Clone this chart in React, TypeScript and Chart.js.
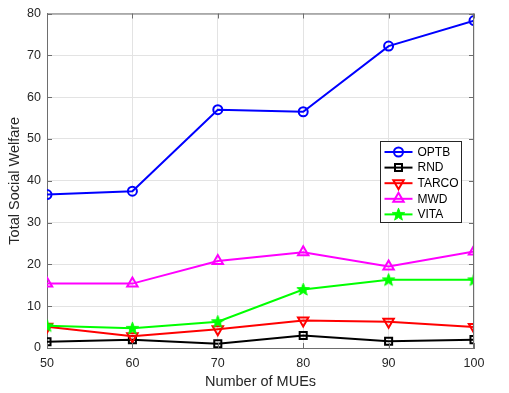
import React, { useEffect, useRef } from 'react';
import { Chart, registerables } from 'chart.js';

Chart.register(...registerables);

const xValues = [50, 60, 70, 80, 90, 100];
const optb = [36.7, 37.5, 57.0, 56.5, 72.2, 78.3];
const rnd = [1.5, 2.0, 1.0, 3.0, 1.6, 2.0];
const tarco = [5.1, 2.8, 4.5, 6.6, 6.3, 5.0];
const mwd = [15.4, 15.4, 20.8, 22.9, 19.5, 23.1];
const vita = [5.3, 4.7, 6.3, 14.0, 16.3, 16.3];
const seriesNames = ['OPTB', 'RND', 'TARCO', 'MWD', 'VITA'];
const seriesColors = ['#0000ff', '#000000', '#ff0000', '#ff00ff', '#00ff00'];
const xTicks = [50, 60, 70, 80, 90, 100];
const yTicks = [0, 10, 20, 30, 40, 50, 60, 70, 80];
const xTitle = 'Number of MUEs';
const yTitle = 'Total Social Welfare';

const FONT = "'Liberation Sans', Arial, Helvetica, sans-serif";
const AXIS_COLOR = '#6e6e6e';
const TEXT_COLOR = '#262626';
const GRID_COLOR = '#e3e3e3';

function makeStar(color: string): HTMLCanvasElement {
  const c = document.createElement('canvas');
  c.width = 15;
  c.height = 15;
  const g = c.getContext('2d')!;
  const cx = 7.5, cy = 7.8, R = 6.6, r = 2.7;
  g.beginPath();
  for (let i = 0; i < 10; i++) {
    const rad = i % 2 === 0 ? R : r;
    const a = -Math.PI / 2 + (i * Math.PI) / 5;
    const px = cx + rad * Math.cos(a);
    const py = cy + rad * Math.sin(a);
    if (i === 0) g.moveTo(px, py);
    else g.lineTo(px, py);
  }
  g.closePath();
  g.fillStyle = color;
  g.fill();
  g.strokeStyle = color;
  g.lineWidth = 1;
  g.stroke();
  return c;
}

type MarkerKind = 'circle' | 'rect' | 'tdown' | 'tup' | 'star';
const markerKinds: MarkerKind[] = ['circle', 'rect', 'tdown', 'tup', 'star'];

function drawMarker(ctx: CanvasRenderingContext2D, kind: MarkerKind, x: number, y: number, color: string, star: HTMLCanvasElement) {
  ctx.save();
  ctx.strokeStyle = color;
  ctx.lineWidth = 2;
  ctx.beginPath();
  if (kind === 'circle') {
    ctx.arc(x, y, 4.5, 0, Math.PI * 2);
    ctx.stroke();
  } else if (kind === 'rect') {
    ctx.rect(x - 3.5, y - 3.5, 7, 7);
    ctx.stroke();
  } else if (kind === 'tdown' || kind === 'tup') {
    const s = kind === 'tup' ? -1 : 1;
    const r = 6;
    ctx.moveTo(x, y + s * r);
    ctx.lineTo(x - r * 0.866, y - s * r * 0.5);
    ctx.lineTo(x + r * 0.866, y - s * r * 0.5);
    ctx.closePath();
    ctx.stroke();
  } else {
    ctx.drawImage(star, x - star.width / 2, y - star.height / 2);
  }
  ctx.restore();
}

export default function App() {
  const ref = useRef<HTMLCanvasElement | null>(null);

  useEffect(() => {
    if (!ref.current) return;
    const star = makeStar('#00ff00');
    const allSeries = [optb, rnd, tarco, mwd, vita];

    const framePlugin = {
      id: 'frameAndLegend',
      afterDraw(chart: any) {
        const ctx: CanvasRenderingContext2D = chart.ctx;
        const { left, top, right, bottom } = chart.chartArea;
        const xs = chart.scales.x;
        const ys = chart.scales.y;
        ctx.save();
        ctx.strokeStyle = AXIS_COLOR;
        ctx.lineWidth = 1;
        ctx.beginPath();
        ctx.moveTo(left, top + 0.5);
        ctx.lineTo(right, top + 0.5);
        ctx.moveTo(right - 0.5, top);
        ctx.lineTo(right - 0.5, bottom);
        ctx.stroke();
        ctx.beginPath();
        for (const t of xTicks) {
          const px = Math.round(xs.getPixelForValue(t)) + 0.5;
          ctx.moveTo(px, bottom);
          ctx.lineTo(px, bottom - 5);
          ctx.moveTo(px, top);
          ctx.lineTo(px, top + 5);
        }
        for (const t of yTicks) {
          const py = Math.round(ys.getPixelForValue(t)) + 0.5;
          ctx.moveTo(left, py);
          ctx.lineTo(left + 5, py);
          ctx.moveTo(right, py);
          ctx.lineTo(right - 5, py);
        }
        ctx.stroke();

        const boxW = 81, boxH = 81;
        const boxLeft = Math.round(right - 13 - boxW) + 0.5;
        const boxTop = Math.round(top + 127) + 0.5;
        ctx.fillStyle = '#ffffff';
        ctx.fillRect(boxLeft, boxTop, boxW, boxH);
        ctx.strokeStyle = '#262626';
        ctx.lineWidth = 1;
        ctx.strokeRect(boxLeft, boxTop, boxW, boxH);
        ctx.font = `12px ${FONT}`;
        ctx.textBaseline = 'middle';
        ctx.textAlign = 'left';
        seriesNames.forEach((name, i) => {
          const cy = boxTop + 10.5 + i * 15.6;
          const color = seriesColors[i];
          ctx.strokeStyle = color;
          ctx.lineWidth = 2;
          ctx.beginPath();
          ctx.moveTo(boxLeft + 4, cy);
          ctx.lineTo(boxLeft + 32, cy);
          ctx.stroke();
          drawMarker(ctx, markerKinds[i], boxLeft + 18, cy, color, star);
          ctx.fillStyle = '#000000';
          ctx.fillText(name, boxLeft + 37, cy + 0.5);
        });
        ctx.restore();
      },
    };

    const pointStyles: any[] = ['circle', 'rect', 'triangle', 'triangle', star];
    const rotations = [0, 0, 180, 0, 0];
    const radii = [4.5, 5, 6, 6, 7];

    const chart = new Chart(ref.current, {
      type: 'line',
      data: {
        datasets: allSeries.map((vals, i) => ({
          label: seriesNames[i],
          data: xValues.map((x, j) => ({ x, y: vals[j] })),
          borderColor: seriesColors[i],
          backgroundColor: 'rgba(0,0,0,0)',
          borderWidth: 2,
          pointStyle: pointStyles[i],
          pointRotation: rotations[i],
          pointRadius: radii[i],
          pointBorderWidth: 2,
          pointBorderColor: seriesColors[i],
          pointBackgroundColor: 'rgba(0,0,0,0)',
          tension: 0,
          fill: false,
          order: 5 - i,
        })),
      },
      options: {
        animation: false,
        responsive: false,
        maintainAspectRatio: false,
        layout: { padding: { left: 0, right: 35, top: 12, bottom: 0 } },
        plugins: {
          legend: { display: false },
          tooltip: { enabled: false },
        },
        scales: {
          x: {
            type: 'linear',
            min: 50,
            max: 100,
            afterBuildTicks: (s: any) => {
              s.ticks = xTicks.map((v) => ({ value: v }));
            },
            afterFit: (s: any) => {
              s.height = 45;
            },
            ticks: {
              color: TEXT_COLOR,
              font: { family: FONT, size: 12.5 },
              padding: 8,
              maxRotation: 0,
              autoSkip: false,
            },
            grid: { color: GRID_COLOR, drawTicks: false, lineWidth: 1 },
            border: { color: AXIS_COLOR, width: 1 },
            title: {
              display: true,
              text: xTitle,
              color: TEXT_COLOR,
              font: { family: FONT, size: 14.5 },
              padding: { top: 0, bottom: 2 },
            },
          },
          y: {
            type: 'linear',
            min: 0,
            max: 80,
            afterBuildTicks: (s: any) => {
              s.ticks = yTicks.map((v) => ({ value: v }));
            },
            afterFit: (s: any) => {
              s.width = 47;
            },
            ticks: {
              color: TEXT_COLOR,
              font: { family: FONT, size: 12.5 },
              padding: 6,
              autoSkip: false,
            },
            grid: { color: GRID_COLOR, drawTicks: false, lineWidth: 1 },
            border: { color: AXIS_COLOR, width: 1 },
            title: {
              display: true,
              text: yTitle,
              color: TEXT_COLOR,
              font: { family: FONT, size: 14.5 },
              padding: { top: 6, bottom: 0 },
            },
          },
        },
      },
      plugins: [framePlugin],
    });

    return () => chart.destroy();
  }, []);

  return (
    <div style={{ position: 'absolute', left: 0, top: 0, width: 509, height: 393, background: '#ffffff' }}>
      <canvas ref={ref} width={509} height={393} style={{ display: 'block' }} />
    </div>
  );
}
